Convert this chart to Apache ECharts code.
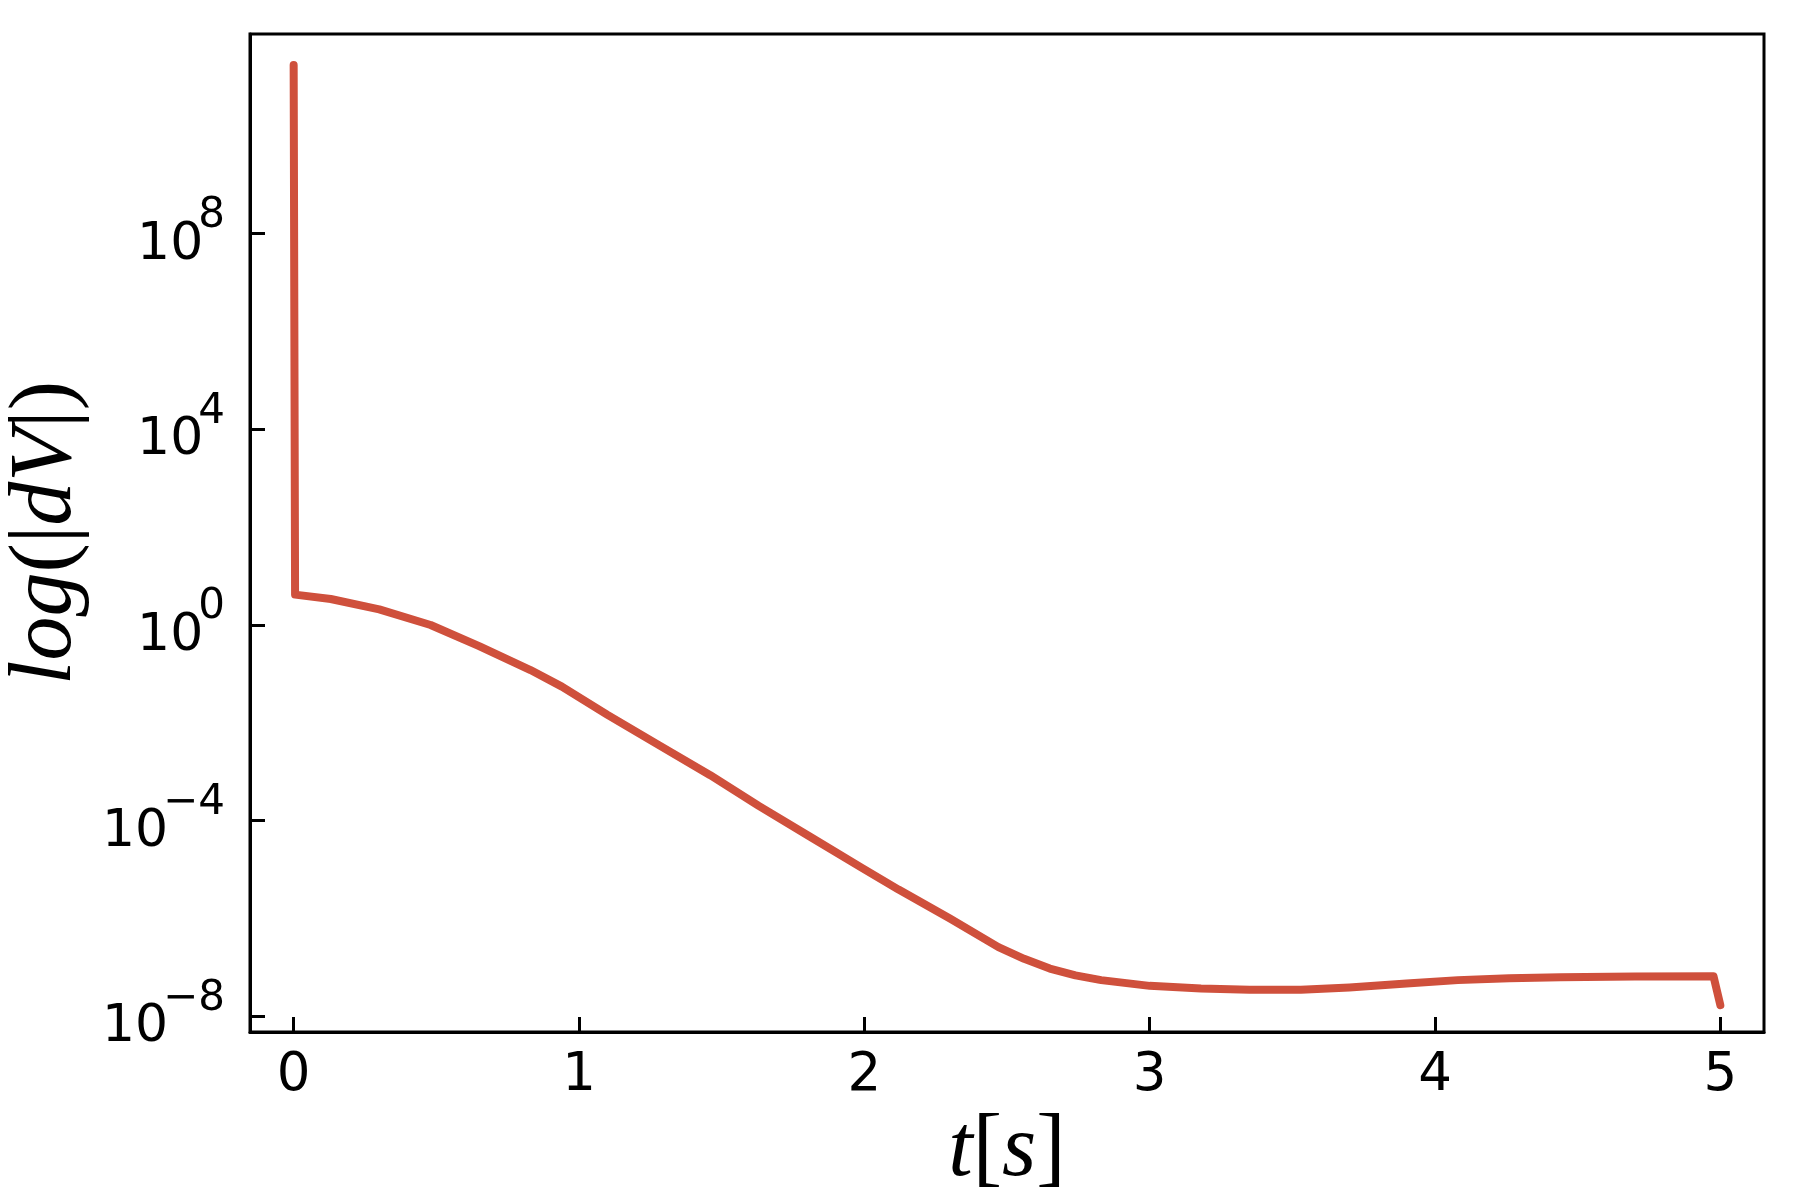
<!DOCTYPE html>
<html>
<head>
<meta charset="utf-8">
<title>log(|dV|) over t</title>
<script src="https://cdn.jsdelivr.net/npm/echarts@6.0.0/dist/echarts.min.js"></script>
<style>
  html, body { margin: 0; padding: 0; background: #fff; }
  #chart { width: 1800px; height: 1200px; }
</style>
</head>
<body>
<div id="chart"></div>
<script>
// time in seconds
const times = [0, 0.005, 0.13, 0.3, 0.48, 0.65, 0.83, 0.94, 1.1, 1.28, 1.46, 1.63, 1.81, 1.99,
  2.12, 2.3, 2.47, 2.56, 2.65, 2.74, 2.83, 3.0, 3.18, 3.35, 3.53, 3.7, 3.9, 4.08, 4.26, 4.44, 4.7, 4.976, 5.0];
// |dV| at those times
const dV = [2.8e11, 4.17, 3.39, 2.09, 1.0, 0.37, 0.12, 0.055, 0.0145, 3.5e-3, 8.5e-4, 2.0e-4, 4.7e-5, 1.1e-5,
  3.9e-6, 1.0e-6, 2.6e-7, 1.5e-7, 9.5e-8, 6.9e-8, 5.5e-8, 4.2e-8, 3.7e-8, 3.5e-8, 3.5e-8, 3.9e-8, 4.7e-8,
  5.5e-8, 6.0e-8, 6.3e-8, 6.5e-8, 6.6e-8, 1.7e-8];
const xTicks = [0, 1, 2, 3, 4, 5];
const yTicks = [1e-8, 1e-4, 1, 1e4, 1e8];

const chart = echarts.init(document.getElementById('chart'));

// 10 with the exponent as superscript
const supLabel = (v) => {
  const e = Math.round(Math.log10(v));
  return '{b|10}{s|' + String(e).replace('-', '\u2212') + '}';
};

const nameRich = {
  i: { fontFamily: 'Liberation Serif', fontStyle: 'italic', fontSize: 88, color: '#000' },
  r: { fontFamily: 'Liberation Serif', fontSize: 88, color: '#000' },
};

chart.setOption({
  animation: false,
  backgroundColor: '#fff',
  grid: {
    left: 250,
    top: 34,
    right: 36,
    bottom: 168,
    outerBoundsMode: 'none',
    containLabel: false,
    show: true,
    borderColor: '#000',
    borderWidth: 3,
  },
  xAxis: {
    type: 'value',
    min: -0.153,
    max: 5.153,
    name: '{i|t}{r|[}{i|s}{r|]}',
    nameLocation: 'middle',
    nameGap: 68,
    nameTextStyle: { rich: nameRich },
    axisLine: { onZero: false, lineStyle: { color: '#000', width: 3 } },
    axisTick: { inside: true, length: 15, lineStyle: { color: '#000', width: 3 }, customValues: xTicks },
    axisLabel: {
      customValues: xTicks,
      margin: 18,
      color: '#000',
      fontFamily: 'DejaVu Sans',
      fontSize: 53,
    },
    splitLine: { show: false },
  },
  yAxis: {
    type: 'log',
    min: Math.pow(10, -8.32),
    max: Math.pow(10, 12.08),
    name: '{i|log}{r|(|}{i|dV}{r||)}',
    nameLocation: 'middle',
    nameGap: 144,
    nameRotate: 90,
    nameTextStyle: { rich: nameRich },
    axisLine: { onZero: false, lineStyle: { color: '#000', width: 3 } },
    axisTick: { inside: true, length: 15, lineStyle: { color: '#000', width: 3 }, customValues: yTicks },
    axisLabel: {
      customValues: yTicks,
      margin: 25,
      padding: [23, 0, 0, 0],
      formatter: supLabel,
      rich: {
        b: { fontFamily: 'DejaVu Sans', fontSize: 52, color: '#000', lineHeight: 52, verticalAlign: 'bottom' },
        s: { fontFamily: 'DejaVu Sans', fontSize: 42, color: '#000', lineHeight: 42, verticalAlign: 'bottom', padding: [0, 0, 34, -5] },
      },
    },
    splitLine: { show: false },
    minorTick: { show: false },
  },
  series: [
    {
      type: 'line',
      data: times.map((t, i) => [t, dV[i]]),
      showSymbol: false,
      smooth: false,
      lineStyle: { color: '#cf503c', width: 8, cap: 'round', join: 'round' },
    },
  ],
});
</script>
</body>
</html>
